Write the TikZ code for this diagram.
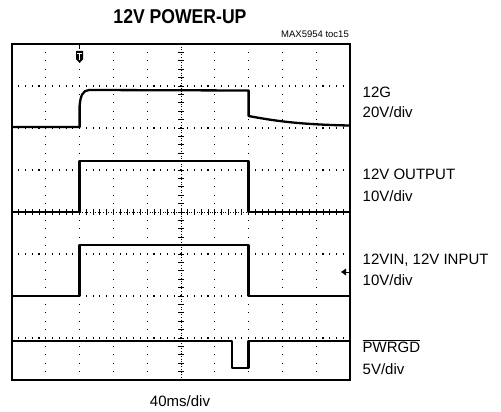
\documentclass[tikz,border=0pt]{standalone}
\usepackage{fontspec}
\setmainfont{Liberation Sans}
\begin{document}
\begin{tikzpicture}[x=1pt,y=-1pt,
    trace/.style={line width=2.3pt, line join=round},
    hgrid/.style={line width=1.1pt, dash pattern=on 1.1pt off 5.66pt},
    vgrid/.style={line width=1.1pt, dash pattern=on 1.1pt off 7.3pt},
    chlabel/.style={anchor=base west, inner sep=0pt, font=\fontsize{15}{18}\selectfont}]
    \useasboundingbox (0,0) rectangle (501,412);

    % Dotted grid, 10 x 8 divisions
    \foreach \k in {1,2,3,5,6,7}
        \draw[hgrid] (11.45,44+42*\k) -- (350,44+42*\k);
    \foreach \j in {1,2,3,4,6,7,8,9}
        \draw[vgrid] (12+33.8*\j,43.45) -- (12+33.8*\j,380);

    % Centre axes with minor ticks
    \draw[line width=0.8pt, dash pattern=on 1pt off 1.6pt] (181,44) -- (181,380);
    \draw[line width=0.8pt, dash pattern=on 1pt off 1.6pt] (12,212) -- (350,212);
    \foreach \i in {1,...,39}
        \draw[line width=0.8pt] (178,44+8.4*\i) -- (184,44+8.4*\i);
    \foreach \i in {1,...,49}
        \draw[line width=0.8pt] (12+6.76*\i,209) -- (12+6.76*\i,215);

    % Screen frame
    \draw[line width=2pt] (12,44) rectangle (350,380);

    % Traces
    \draw[trace] (13,127) -- (79.6,127) -- (79.6,106)
        .. controls (80.5,95) and (83,90.5) .. (89,90) -- (248.6,90.5)
        -- (248.6,116) .. controls (275,121) and (300,124.5) .. (349,125.5);  % 12G
    \draw[trace] (13,212) -- (79.6,212) -- (79.6,161.2) -- (248.6,161.2)
        -- (248.6,212) -- (349,212);  % 12V output
    \draw[trace] (13,296) -- (79.6,296) -- (79.6,245) -- (248.6,245)
        -- (248.6,296) -- (349,296);  % 12VIN
    \draw[trace] (13,341) -- (231.7,341) -- (231.7,368) -- (248.6,368)
        -- (248.6,341) -- (349,341);  % PWRGD

    % Trigger marks
    \draw[line width=1pt] (79.6,44) -- (79.6,49);
    \fill (76,51) -- (83.2,51) -- (83.2,59) -- (79.6,63) -- (76,59) -- cycle;
    \draw[white, line width=0.9pt] (77.3,53.2) -- (81.9,53.2) (79.6,53.2) -- (79.6,60);
    \fill (341,272) -- (346,268.5) -- (346,275.5) -- cycle;
    \draw[line width=1pt] (346,272) -- (350,272);

    % Texts
    \node[font=\bfseries\fontsize{20}{24}\selectfont, anchor=base, inner sep=0pt] (title) at (180,24)
        {\scalebox{0.88}[1]{12V POWER-UP}};
    \node[font=\fontsize{9.5}{11}\selectfont, anchor=base east, inner sep=0pt] (tocname) at (349,38) {MAX5954 toc15};
    \node[chlabel] (gname) at (362.5,97) {12G};
    \node[chlabel] (gscale) at (362.5,117.5) {20V/div};
    \node[chlabel] (outname) at (362.5,179) {12V OUTPUT};
    \node[chlabel] (outscale) at (362.5,201) {10V/div};
    \node[chlabel] (inname) at (362.5,264) {12VIN, 12V INPUT};
    \node[chlabel] (inscale) at (362.5,285) {10V/div};
    \node[chlabel] (pgname) at (362.5,352) {$\overline{\mbox{PWRGD}}$};
    \node[chlabel] (pgscale) at (362.5,374.5) {5V/div};
    \node[font=\fontsize{15}{18}\selectfont, anchor=base, inner sep=0pt] (timescale) at (180,406) {40ms/div};
\end{tikzpicture}
\end{document}
